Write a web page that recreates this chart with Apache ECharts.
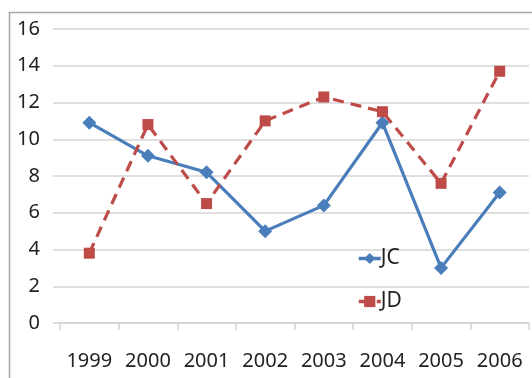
<!DOCTYPE html>
<html>
<head>
<meta charset="utf-8">
<script src="https://cdn.jsdelivr.net/npm/echarts@6/dist/echarts.min.js"></script>
<style>html,body{margin:0;padding:0;background:#fff}#c{width:532px;height:378px}</style>
</head>
<body>
<div id="c"></div>
<script>
var categories = ['1999','2000','2001','2002','2003','2004','2005','2006'];
var jcValues = [10.9, 9.1, 8.2, 5.0, 6.4, 10.9, 3.0, 7.1];
var jdValues = [3.8, 10.8, 6.5, 11.0, 12.3, 11.5, 7.6, 13.7];
var yTicks = [0, 2, 4, 6, 8, 10, 12, 14, 16];

var chart = echarts.init(document.getElementById('c'), null, {renderer: 'canvas'});
var font = '"Noto Sans", "Open Sans", sans-serif';
chart.setOption({
  animation: false,
  backgroundColor: '#fff',
  graphic: [{
    type: 'rect', left: 7, top: 10, z: -1,
    shape: {width: 540, height: 390},
    style: {fill: 'none', stroke: '#a6a6a6', lineWidth: 1.5}
  }],
  grid: {left: 60, right: 3, top: 29, bottom: 55},
  xAxis: {
    type: 'category', data: categories, boundaryGap: true,
    axisLine: {show: true, lineStyle: {color: '#d4d4d4', width: 1.5}},
    axisTick: {show: true, interval: 0, length: 7, lineStyle: {color: '#d4d4d4', width: 1.5}},
    axisLabel: {color: '#222', fontSize: 20, fontFamily: font, margin: 28, interval: 0}
  },
  yAxis: {
    type: 'value', min: yTicks[0], max: yTicks[yTicks.length - 1], interval: 2,
    axisLine: {show: false},
    axisTick: {show: true, length: 7, lineStyle: {color: '#d4d4d4', width: 1.5}},
    splitLine: {show: true, lineStyle: {color: '#d4d4d4', width: 1.5}},
    axisLabel: {color: '#222', fontSize: 20, fontFamily: font, margin: 20}
  },
  legend: {
    orient: 'vertical', left: 352, top: 243, itemGap: 22,
    itemWidth: 22, itemHeight: 14,
    lineStyle: {width: 3.5},
    textStyle: {color: '#222', fontSize: 21, fontFamily: font, padding: [0, 0, 0, -5]},
    data: ['JC', 'JD']
  },
  series: [{
    name: 'JC', type: 'line', data: jcValues,
    symbol: 'diamond', symbolSize: 14,
    lineStyle: {color: '#4a7ebb', width: 3.2},
    itemStyle: {color: '#4a7ebb'}
  }, {
    name: 'JD', type: 'line', data: jdValues,
    symbol: 'rect', symbolSize: 11,
    lineStyle: {color: '#be4b48', width: 3.2, type: [11, 7]},
    itemStyle: {color: '#be4b48'}
  }]
});
</script>
</body>
</html>
